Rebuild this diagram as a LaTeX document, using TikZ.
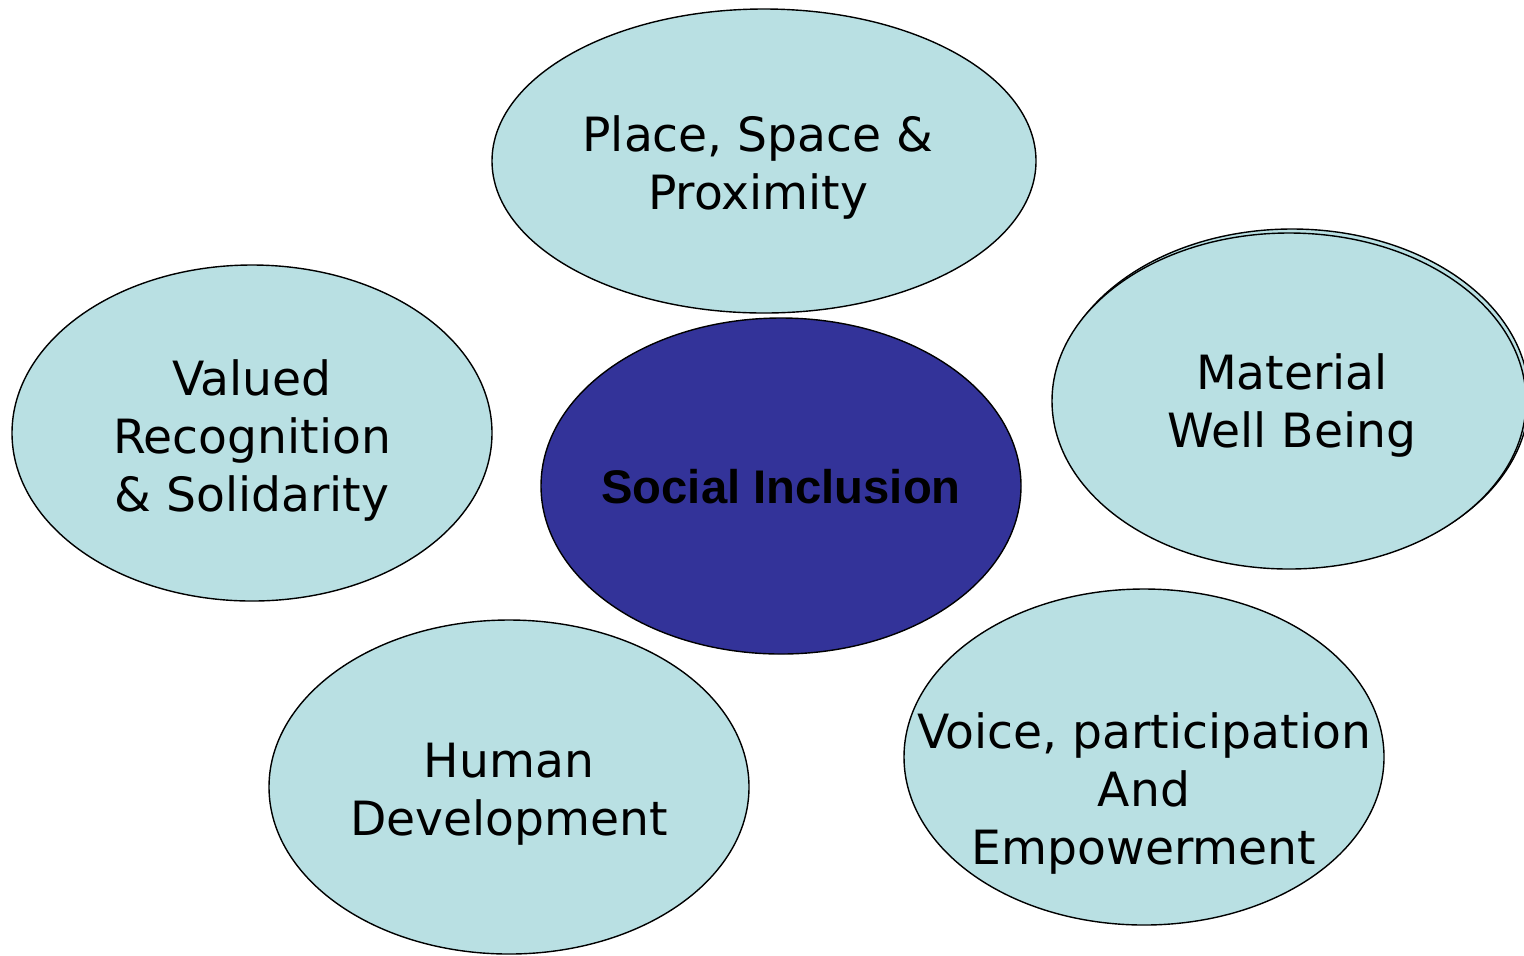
\documentclass[tikz,border=0pt]{standalone}
\usepackage{fontspec}
\setmainfont{DejaVu Sans}
\newfontfamily\arialfont{Liberation Sans}
\usetikzlibrary{shapes.geometric}

\definecolor{hellblau}{RGB}{185,224,227}
\definecolor{dunkelblau}{RGB}{51,51,153}

\tikzset{
	blase/.style={ellipse, draw=black, line width=0.7pt, fill=hellblau, inner sep=0pt},
	kern/.style={blase, fill=dunkelblau},
	beschr/.style={align=center, font=\fontsize{23.6}{29}\selectfont, inner sep=0pt}
}

\begin{document}
\begin{tikzpicture}[x=0.5pt, y=-0.5pt]
	\clip (0,0) rectangle (1524,955);
	\fill[white] (0,0) rectangle (1524,955);

	% Kreise aussen
	\node[blase, minimum width=272pt, minimum height=152pt] (place) at (764,161) {};
	\node[blase, minimum width=240pt, minimum height=168pt] (valued) at (252,433) {};
	\node[blase, minimum width=237pt, minimum height=169pt] (materialhinten) at (1292,398) {};
	\node[blase, minimum width=237pt, minimum height=168pt] (material) at (1289,401) {};
	\node[blase, minimum width=240pt, minimum height=167pt] (human) at (509,787) {};
	\node[blase, minimum width=240pt, minimum height=168pt] (voice) at (1144,757) {};

	% Kreis in der Mitte
	\node[kern, minimum width=240pt, minimum height=168pt] (social) at (781,486) {};

	% Beschriftungen
	\node[beschr] (placetxt) at (758,167) {Place, Space \&\\Proximity};
	\node[beschr] (valuedtxt) at (252,440) {Valued\\Recognition\\\& Solidarity};
	\node[beschr] (materialtxt) at (1292,405) {Material\\Well Being};
	\node[beschr] (humantxt) at (509,794) {Human\\Development};
	\node[beschr] (voicetxt) at (1144,793) {Voice, participation\\And\\Empowerment};
	\node[beschr, font=\arialfont\bfseries\fontsize{23.6}{29}\selectfont] (socialtxt) at (781,487) {Social Inclusion};
\end{tikzpicture}
\end{document}
